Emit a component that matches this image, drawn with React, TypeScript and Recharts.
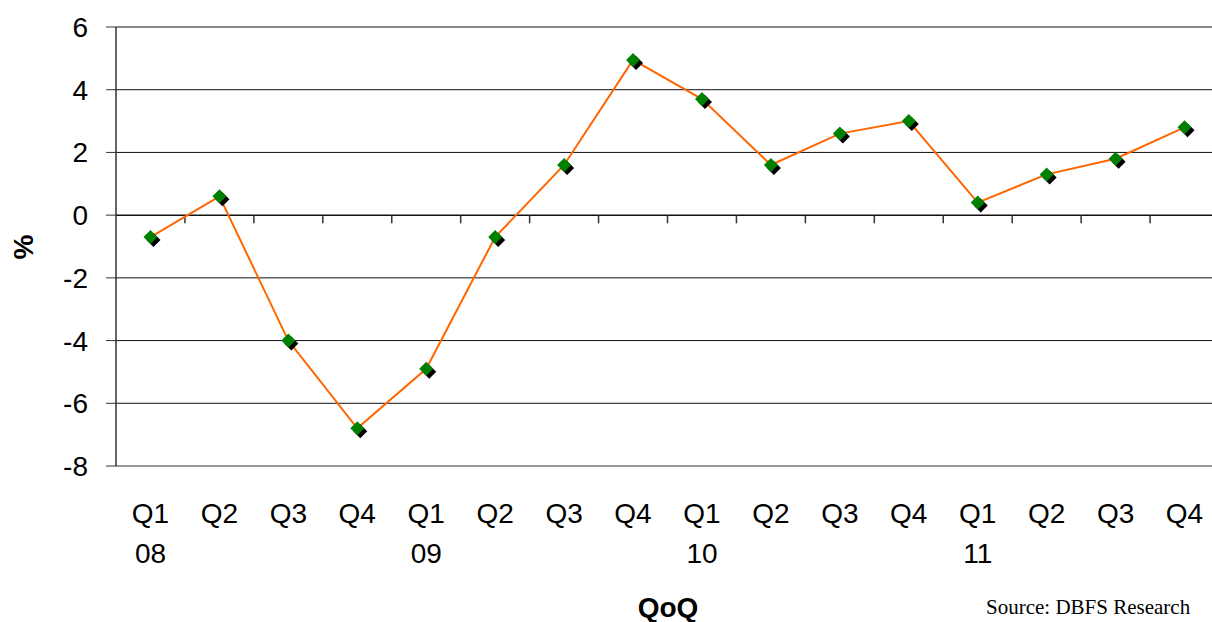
import { LineChart, Line, XAxis, YAxis, ReferenceLine } from 'recharts'

// quarters, Q1 2008 .. Q4 2011
const quarters = ['Q1', 'Q2', 'Q3', 'Q4', 'Q1', 'Q2', 'Q3', 'Q4', 'Q1', 'Q2', 'Q3', 'Q4', 'Q1', 'Q2', 'Q3', 'Q4']
const years = ['08', '', '', '', '09', '', '', '', '10', '', '', '', '11', '', '', '']
const qoq = [-0.7, 0.6, -4.0, -6.8, -4.9, -0.7, 1.6, 4.95, 3.7, 1.6, 2.6, 3.0, 0.4, 1.3, 1.8, 2.8]
const yTicks = [-8, -6, -4, -2, 0, 2, 4, 6]
const innerGrid = [-6, -4, -2, 2, 4]

const data = qoq.map((v, i) => ({ idx: i, value: v }))
const xTicks = data.map((d) => d.idx)
const boundaries = xTicks.slice(1).map((i) => i - 0.5)

const FONT = "Arial, 'Liberation Sans', sans-serif"

// green diamond with a black drop shadow
const DiamondDot = ({ cx, cy }: { cx?: number; cy?: number }) => {
    if (cx == null || cy == null) return null
    const r = 7
    const d = (x: number, y: number) => `M${x},${y - r} L${x + r},${y} L${x},${y + r} L${x - r},${y} Z`
    return (
        <g>
            <path d={d(cx + 3, cy + 3)} fill="#000" />
            <path d={d(cx, cy)} fill="#008000" />
        </g>
    )
}

const QuarterTick = ({ x, y, payload }: { x?: number; y?: number; payload?: { value: number } }) => {
    if (x == null || y == null || !payload) return null
    const i = payload.value
    return (
        <text x={x} y={y} textAnchor="middle" fontFamily={FONT} fontSize={28} fill="#000">
            <tspan x={x} dy={49}>{quarters[i]}</tspan>
            {years[i] && <tspan x={x} dy={40}>{years[i]}</tspan>}
        </text>
    )
}

export default function App() {
    return (
        <div style={{ position: 'absolute', left: 0, top: 0, width: 1212, height: 622, overflow: 'hidden', background: '#fff' }}>
            <LineChart width={1230} height={622} data={data} margin={{ top: 27, right: 11, bottom: 0, left: 0 }}>
                <XAxis
                    dataKey="idx"
                    type="number"
                    domain={[-0.5, 15.5]}
                    ticks={xTicks}
                    interval={0}
                    axisLine={false}
                    tickLine={false}
                    height={156}
                    tick={<QuarterTick />}
                />
                <YAxis
                    domain={[-8, 6]}
                    ticks={yTicks}
                    width={116}
                    tickSize={10}
                    tickMargin={18}
                    axisLine={{ stroke: '#333', strokeWidth: 1.5 }}
                    tickLine={{ stroke: '#333' }}
                    tick={{ fill: '#000', fontSize: 28, fontFamily: FONT }}
                />
                <ReferenceLine y={6} stroke="#888" strokeWidth={2} />
                <ReferenceLine y={-8} stroke="#999" strokeWidth={2} />
                {innerGrid.map((v) => (
                    <ReferenceLine key={v} y={v} stroke="#111" strokeWidth={1} />
                ))}
                <ReferenceLine y={0} stroke="#111" strokeWidth={1.5} />
                {boundaries.map((b) => (
                    <ReferenceLine key={b} segment={[{ x: b, y: 0 }, { x: b, y: -0.26 }]} stroke="#333" strokeWidth={1.5} />
                ))}
                <Line
                    dataKey="value"
                    stroke="#FF6600"
                    strokeWidth={2}
                    dot={<DiamondDot />}
                    activeDot={false}
                    isAnimationActive={false}
                />
            </LineChart>
            <svg width={1212} height={622} style={{ position: 'absolute', left: 0, top: 0, pointerEvents: 'none' }}>
                <text x={33} y={247} transform="rotate(-90 33 247)" textAnchor="middle" fontFamily={FONT} fontWeight="bold" fontSize={28}>%</text>
                <text x={668} y={617} textAnchor="middle" fontFamily={FONT} fontWeight="bold" fontSize={28}>QoQ</text>
                <text x={986} y={614} fontFamily="'Liberation Serif', 'Times New Roman', serif" fontSize={21}>Source: DBFS Research</text>
            </svg>
        </div>
    )
}
